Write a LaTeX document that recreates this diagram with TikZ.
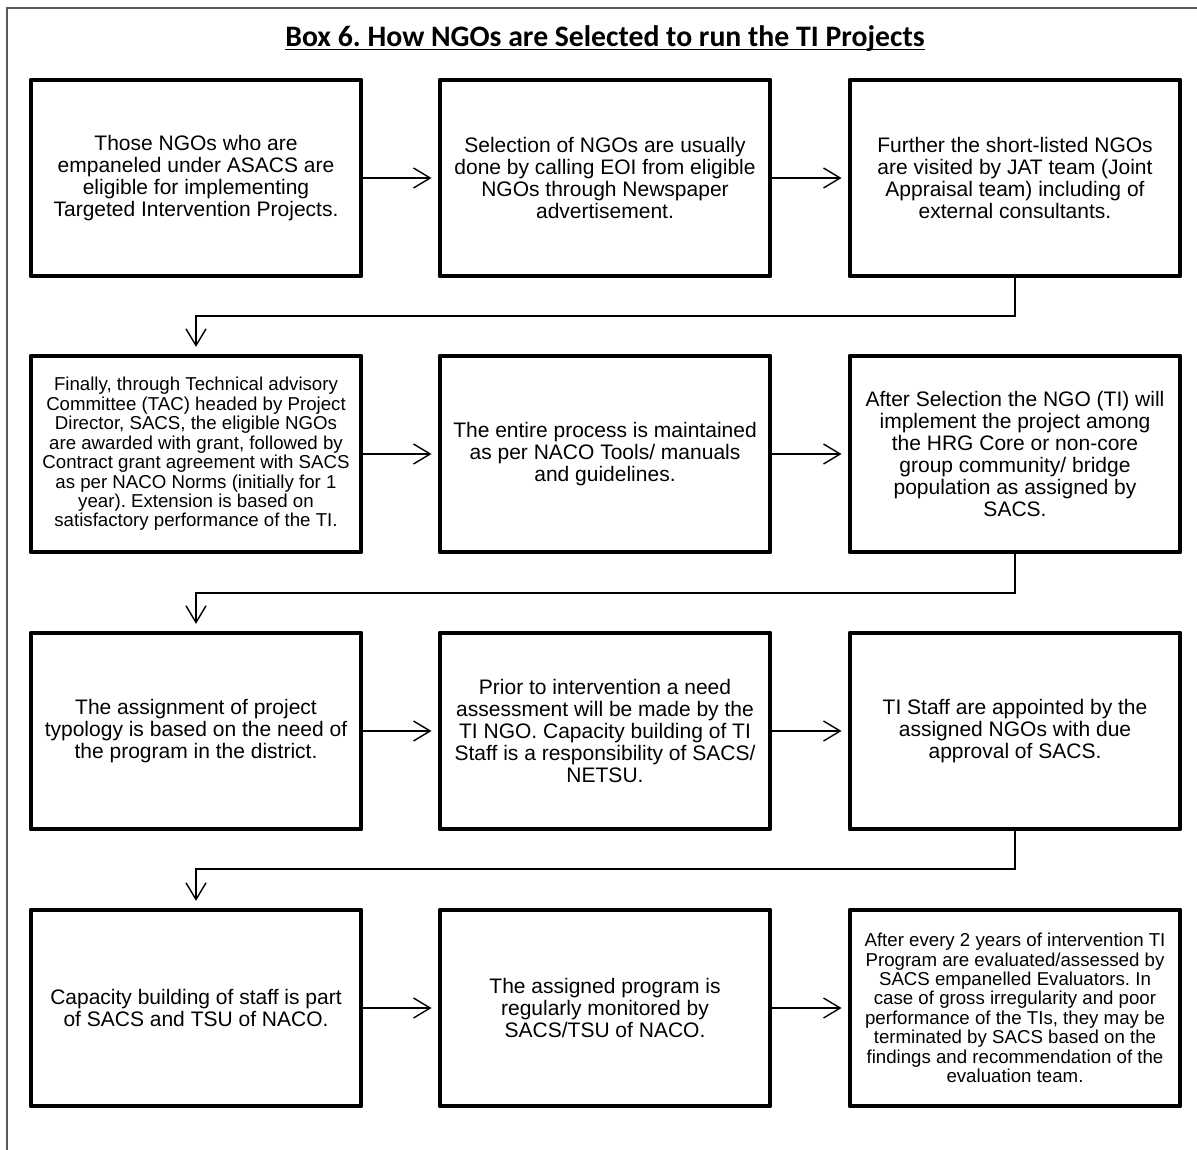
\documentclass[tikz,border=0pt]{standalone}
\usepackage{fontspec}
\setmainfont{Liberation Sans}
\newfontfamily\titlefont{Carlito}
\usetikzlibrary{arrows.meta}
\frenchspacing

\begin{document}
\begin{tikzpicture}[x=0.75pt,y=-0.75pt,
  stage/.style={draw=black, line width=3.2pt, line join=round,
    minimum width=248pt, minimum height=147.5pt, inner sep=0pt,
    align=center, font={\fontsize{15.75}{16.5}\selectfont}},
  smalltext/.style={font={\fontsize{14}{14.6}\selectfont}},
  flow/.style={draw=black, line width=1.05pt,
    -{Straight Barb[length=12.5pt,width=15pt]}},
  across/.style={flow, shorten >=4.5pt},
  down/.style={flow, shorten >=5pt},
  frame/.style={draw=black!65, line width=1.2pt}
]
\useasboundingbox (0,0) rectangle (1197,1150);

% page frame (top and left rules)
\draw[frame] (1197,8) -- (7,8) -- (7,1150);

% heading
\node[inner sep=0pt, anchor=base, font={\titlefont\bfseries\fontsize{22.3}{24}\selectfont}]
  (title) at (605,46) {Box 6. How NGOs are Selected to run the TI Projects};
\draw[line width=1.2pt] ([yshift=-2.6pt]title.base west) -- ([yshift=-2.6pt]title.base east);

% row 1
\node[stage] (b1) at (196,178) {Those NGOs who are\\empaneled under ASACS are\\eligible for implementing\\Targeted Intervention Projects.};
\node[stage] (b2) at (605,178) {Selection of NGOs are usually\\done by calling EOI from eligible\\NGOs through Newspaper\\advertisement.};
\node[stage] (b3) at (1015,178) {Further the short-listed NGOs\\are visited by JAT team (Joint\\Appraisal team) including of\\external consultants.};

% row 2
\node[stage, smalltext] (b4) at (196,454) {Finally, through Technical advisory\\Committee (TAC) headed by Project\\Director, SACS, the eligible NGOs\\are awarded with grant, followed by\\Contract grant agreement with SACS\\as per NACO Norms (initially for 1\\year). Extension is based on\\satisfactory performance of the TI.};
\node[stage] (b5) at (605,454) {The entire process is maintained\\as per NACO Tools/ manuals\\and guidelines.};
\node[stage] (b6) at (1015,454) {After Selection the NGO (TI) will\\implement the project among\\the HRG Core or non-core\\group community/ bridge\\population as assigned by\\SACS.};

% row 3
\node[stage] (b7) at (196,731) {The assignment of project\\typology is based on the need of\\the program in the district.};
\node[stage] (b8) at (605,731) {Prior to intervention a need\\assessment will be made by the\\TI NGO. Capacity building of TI\\Staff is a responsibility of SACS/\\NETSU.};
\node[stage] (b9) at (1015,731) {TI Staff are appointed by the\\assigned NGOs with due\\approval of SACS.};

% row 4
\node[stage] (b10) at (196,1008) {Capacity building of staff is part\\of SACS and TSU of NACO.};
\node[stage] (b11) at (605,1008) {The assigned program is\\regularly monitored by\\SACS/TSU of NACO.};
\node[stage, smalltext] (b12) at (1015,1008) {After every 2 years of intervention TI\\Program are evaluated/assessed by\\SACS empanelled Evaluators. In\\case of gross irregularity and poor\\performance of the TIs, they may be\\terminated by SACS based on the\\findings and recommendation of the\\evaluation team.};

% bends between rows
\coordinate (j1) at (196,316);
\coordinate (j2) at (196,593);
\coordinate (j3) at (196,869);

% connectors
\draw[across] (b1) -- (b2);
\draw[across] (b2) -- (b3);
\draw[down] (b3.south) |- (j1) -- (b4.north);
\draw[across] (b4) -- (b5);
\draw[across] (b5) -- (b6);
\draw[down] (b6.south) |- (j2) -- (b7.north);
\draw[across] (b7) -- (b8);
\draw[across] (b8) -- (b9);
\draw[down] (b9.south) |- (j3) -- (b10.north);
\draw[across] (b10) -- (b11);
\draw[across] (b11) -- (b12);
\end{tikzpicture}
\end{document}
